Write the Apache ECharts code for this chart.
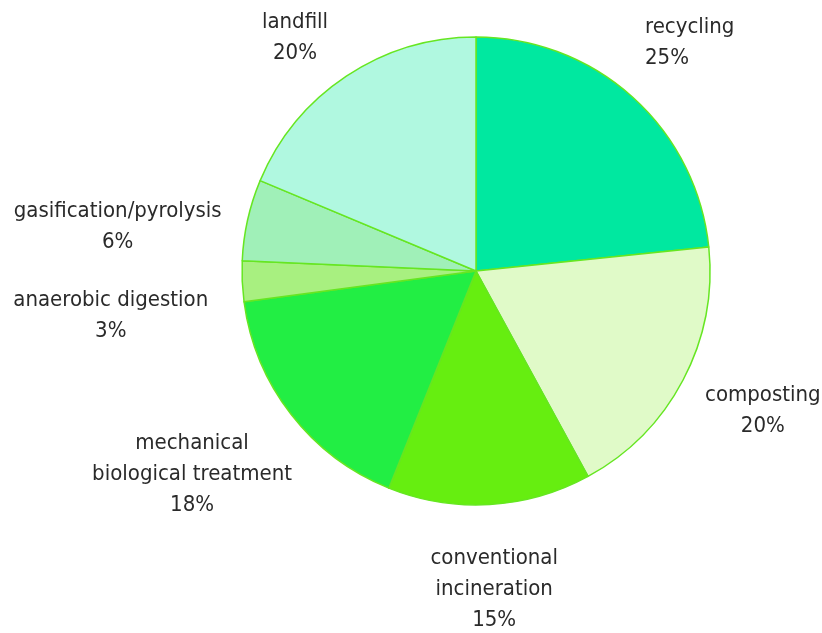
<!DOCTYPE html>
<html>
<head>
<meta charset="utf-8">
<script src="https://cdn.jsdelivr.net/npm/echarts@6/dist/echarts.min.js"></script>
<style>
  html, body { margin: 0; padding: 0; background: #fff; }
  #chart { width: 822px; height: 633px; }
</style>
</head>
<body>
<div id="chart"></div>
<script>
// clockwise from 12 o'clock
const categories = [
  'recycling',
  'composting',
  'conventional\nincineration',
  'mechanical\nbiological treatment',
  'anaerobic digestion',
  'gasification/pyrolysis',
  'landfill',
]
const shares = [25, 20, 15, 18, 3, 6, 20]
const sliceColors = ['#00e8a0', '#e0fac8', '#66ee10', '#22ee44', '#a8f080', '#a0f0b8', '#b0f8e0']

const center = [476, 271]
const radius = 234
// label centre: distance from pie centre, and angle tweak (deg) off the slice mid-angle
const labelDist = [313, 319, 319, 349, 368, 361, 295]
const labelShift = [1, -1.8, 0.1, 2.3, -4.5, -5.6, -4.2]
const labelAlign = ['left', 'center', 'center', 'center', 'center', 'center', 'center']

const total = shares.reduce((a, b) => a + b, 0)
const midAngles = []
let acc = 0
shares.forEach((v) => {
  midAngles.push((acc + v / 2) / total * 360)
  acc += v
})

const chart = echarts.init(document.getElementById('chart'))
chart.setOption({
  backgroundColor: '#fff',
  animation: false,
  series: [{
    type: 'pie',
    center,
    radius,
    startAngle: 90,
    clockwise: true,
    itemStyle: { borderColor: '#66e622', borderWidth: 1.5 },
    label: {
      show: true,
      position: 'outside',
      color: '#2a2a2a',
      fontSize: 22,
      lineHeight: 31,
      overflow: 'none',
      fontFamily: '"Liberation Sans Narrow", "DejaVu Sans Condensed", sans-serif',
      formatter: (p) => `${p.name}\n${p.value}%`,
    },
    labelLine: { show: false },
    labelLayout(params) {
      const i = params.dataIndex
      const a = (midAngles[i] + labelShift[i]) * Math.PI / 180
      let x = center[0] + labelDist[i] * Math.sin(a)
      if (labelAlign[i] === 'left') x -= params.labelRect.width / 2
      return {
        x,
        y: center[1] - labelDist[i] * Math.cos(a),
        align: labelAlign[i],
        verticalAlign: 'middle',
      }
    },
    emphasis: { disabled: true },
    data: categories.map((name, i) => ({
      name,
      value: shares[i],
      itemStyle: { color: sliceColors[i] },
      label: { align: labelAlign[i] },
    })),
  }],
})
</script>
</body>
</html>
